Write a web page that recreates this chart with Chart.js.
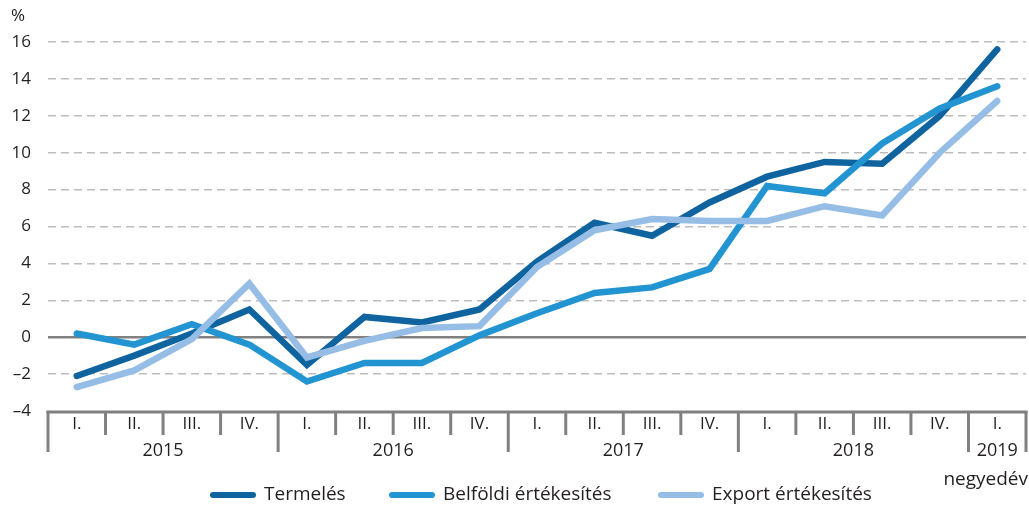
<!DOCTYPE html>
<html lang="hu">
<head>
    <meta charset="UTF-8">
    <title>Termelés és értékesítés</title>
    <style>
        html, body { margin: 0; padding: 0; background: #fff; }
        #wrap { width: 1029px; height: 505px; }
    </style>
    <script src="https://cdn.jsdelivr.net/npm/chart.js"></script>
</head>
<body>
    <div id="wrap"><canvas id="chart" width="1029" height="505"></canvas></div>

    <script>
        // quarters and years on the x axis
        const quarters = ['I.', 'II.', 'III.', 'IV.', 'I.', 'II.', 'III.', 'IV.', 'I.', 'II.', 'III.', 'IV.',
                          'I.', 'II.', 'III.', 'IV.', 'I.'];
        const years = ['2015', '2016', '2017', '2018', '2019'];
        const yearSpans = [4, 4, 4, 4, 1];

        // series (%)
        const termeles = [-2.1, -1.0, 0.2, 1.5, -1.5, 1.1, 0.8, 1.5, 4.1, 6.2, 5.5, 7.3, 8.7, 9.5, 9.4, 12.0, 15.6];
        const belfoldi = [0.2, -0.4, 0.7, -0.4, -2.4, -1.4, -1.4, 0.1, 1.3, 2.4, 2.7, 3.7, 8.2, 7.8, 10.5, 12.4, 13.6];
        const exportErt = [-2.7, -1.8, -0.1, 2.9, -1.1, -0.2, 0.5, 0.6, 3.8, 5.8, 6.4, 6.3, 6.3, 7.1, 6.6, 10.0, 12.8];

        const yTicks = [-4, -2, 0, 2, 4, 6, 8, 10, 12, 14, 16];

        const seriesNames = ['Termelés', 'Belföldi értékesítés', 'Export értékesítés'];
        const seriesColors = ['#0f64a0', '#2394d2', '#95bde5'];

        const FONT = "'Open Sans', sans-serif";
        const textColor = '#231f20';
        const axisGray = '#808080';

        // axis lines, dividers, labels and legend
        const decorations = {
            id: 'decorations',
            beforeDatasetsDraw(chart) {
                const ctx = chart.ctx;
                const area = chart.chartArea;
                const y = chart.scales.y;
                ctx.save();
                ctx.strokeStyle = axisGray;
                ctx.lineWidth = 2.5;
                ctx.beginPath();
                ctx.moveTo(area.left, y.getPixelForValue(0));
                ctx.lineTo(area.right, y.getPixelForValue(0));
                ctx.stroke();
                ctx.restore();
            },
            afterDraw(chart) {
                const ctx = chart.ctx;
                const area = chart.chartArea;
                const x = chart.scales.x;
                const n = quarters.length;
                const binW = (area.right - area.left) / n;
                ctx.save();

                // bottom axis
                ctx.strokeStyle = axisGray;
                ctx.lineWidth = 3;
                ctx.beginPath();
                ctx.moveTo(area.left - 1.5, area.bottom + 1);
                ctx.lineTo(area.right + 1.5, area.bottom + 1);
                ctx.stroke();

                // dividers
                const yearEdges = [0];
                yearSpans.reduce((acc, s) => { yearEdges.push(acc + s); return acc + s; }, 0);
                ctx.lineWidth = 3;
                for (let i = 0; i <= n; i++) {
                    const px = area.left + i * binW;
                    const long = yearEdges.includes(i);
                    ctx.beginPath();
                    ctx.moveTo(px, area.bottom);
                    ctx.lineTo(px, area.bottom + (long ? 41 : 24));
                    ctx.stroke();
                }

                // quarter labels
                ctx.fillStyle = textColor;
                ctx.font = '17px ' + FONT;
                ctx.textAlign = 'center';
                ctx.textBaseline = 'middle';
                quarters.forEach((q, i) => {
                    ctx.fillText(q, x.getPixelForValue(i), area.bottom + 13);
                });

                // year labels
                ctx.font = '18px ' + FONT;
                years.forEach((yr, k) => {
                    const cx = area.left + (yearEdges[k] + yearEdges[k + 1]) / 2 * binW;
                    ctx.fillText(yr, cx, area.bottom + 40);
                });

                ctx.textAlign = 'right';
                ctx.font = '19px ' + FONT;
                ctx.fillText('negyedév', 1028, 480);

                ctx.textAlign = 'left';
                ctx.font = '17px ' + FONT;
                ctx.fillText('%', 11, 16);

                // legend
                const legendX = [210, 389, 658];
                ctx.font = '19px ' + FONT;
                ctx.lineCap = 'round';
                ctx.lineWidth = 6;
                seriesNames.forEach((name, i) => {
                    ctx.strokeStyle = seriesColors[i];
                    ctx.beginPath();
                    ctx.moveTo(legendX[i] + 3, 495);
                    ctx.lineTo(legendX[i] + 43, 495);
                    ctx.stroke();
                    ctx.fillStyle = textColor;
                    ctx.fillText(name, legendX[i] + 54, 495);
                });
                ctx.restore();
            }
        };

        const datasets = [termeles, belfoldi, exportErt].map((data, i) => ({
            label: seriesNames[i],
            data: data,
            borderColor: seriesColors[i],
            backgroundColor: seriesColors[i],
            borderWidth: 6.5,
            borderCapStyle: 'round',
            borderJoinStyle: 'miter',
            pointRadius: 0,
            tension: 0,
            order: 3 - i
        }));

        new Chart(document.getElementById('chart'), {
            type: 'line',
            data: { labels: quarters.map((q, i) => i), datasets: datasets },
            options: {
                responsive: false,
                animation: false,
                events: [],
                layout: { padding: { top: 42, right: 3, bottom: 0, left: 0 } },
                plugins: { legend: { display: false }, tooltip: { enabled: false } },
                scales: {
                    x: {
                        type: 'category',
                        offset: true,
                        grid: { display: false },
                        border: { display: false },
                        ticks: { display: false },
                        afterFit(scale) { scale.height = 94; }
                    },
                    y: {
                        min: yTicks[0],
                        max: yTicks[yTicks.length - 1],
                        afterBuildTicks(scale) { scale.ticks = yTicks.map(v => ({ value: v })); },
                        border: { display: false, dash: [8, 5] },
                        grid: {
                            drawTicks: false,
                            lineWidth: 1.5,
                            color: c => (c.tick && (c.tick.value === 0 || c.tick.value === -4)) ? 'rgba(0,0,0,0)' : '#bdbdbd'
                        },
                        ticks: {
                            padding: 17,
                            color: textColor,
                            font: { family: "'Open Sans', sans-serif", size: 17 },
                            callback: v => (v < 0 ? '\u2013' + Math.abs(v) : String(v))
                        },
                        afterFit(scale) { scale.width = 48; }
                    }
                }
            },
            plugins: [decorations]
        });
    </script>
</body>
</html>
